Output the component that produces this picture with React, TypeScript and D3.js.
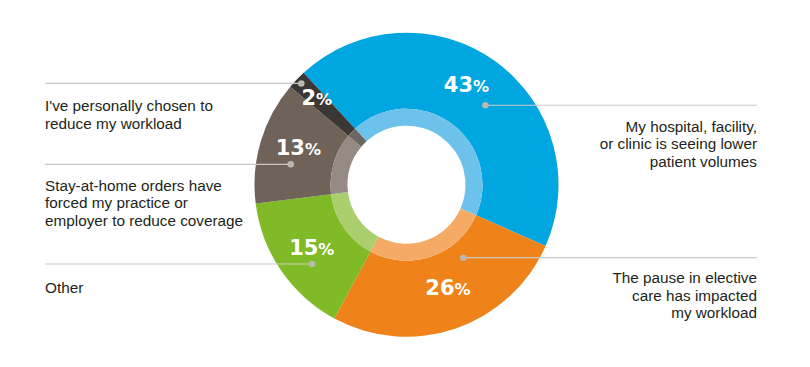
import React from "react";
import * as d3 from "d3";

const categories = [
  "My hospital, facility, or clinic is seeing lower patient volumes",
  "The pause in elective care has impacted my workload",
  "Other",
  "Stay-at-home orders have forced my practice or employer to reduce coverage",
  "I've personally chosen to reduce my workload",
];
const values = [43, 26, 15, 13, 2];
const labelLines = [
  ["My hospital, facility,", "or clinic is seeing lower", "patient volumes"],
  ["The pause in elective", "care has impacted", "my workload"],
  ["Other"],
  ["Stay-at-home orders have", "forced my practice or", "employer to reduce coverage"],
  ["I've personally chosen to", "reduce my workload"],
];
const colors = ["#00a6df", "#f0821a", "#80ba27", "#6f6259", "#3b3734"];
const lightColors = ["#6cc2eb", "#f5aa66", "#abce6f", "#968b84", "#6b6662"];

// layout (annotation placement, degrees clockwise from 12 o'clock)
const pctAngle = [32.8, 159.4, 233.4, 285.4, 311.6];
const pctRadius = [110.7, 117.8, 118, 112.2, 120];
const dotAngle = [44.8, 142.1, 230, 280, 313.9];
const dotRadius = [112, 92.5, 123.4, 117.6, 146];
const side = ["right", "right", "left", "left", "left"];
const textOffset = [26.5, 25.5, 28.5, 26.5, 27.5];

const W = 810;
const H = 367;
const cx = 406.5;
const cy = 184.7;
const R = 152;
const rMid = 76;
const rIn = 59;
const leftX = 45;
const rightX = 757;
const lineH = 17.6;

const rad = (deg: number) => (deg * Math.PI) / 180;
const polar = (deg: number, r: number) => [cx + r * Math.sin(rad(deg)), cy - r * Math.cos(rad(deg))];

export default function App() {
  const start = rad(-42.6);
  const pie = d3
    .pie<number>()
    .sort(null)
    .value((d) => d)
    .startAngle(start)
    .endAngle(start + 2 * Math.PI);
  const arcs = pie(values);
  const outer = d3.arc<d3.PieArcDatum<number>>().innerRadius(rMid).outerRadius(R);
  const inner = d3.arc<d3.PieArcDatum<number>>().innerRadius(rIn).outerRadius(rMid);

  return (
    <svg
      width={W}
      height={H}
      style={{ position: "absolute", left: 0, top: 0, background: "#fff" }}
      fontFamily="'Liberation Sans', Arial, sans-serif"
    >
      <g transform={`translate(${cx},${cy})`}>
        {arcs.map((a, i) => (
          <path key={"o" + i} d={outer(a) || ""} fill={colors[i]} />
        ))}
        {arcs.map((a, i) => (
          <path key={"i" + i} d={inner(a) || ""} fill={lightColors[i]} />
        ))}
      </g>
      {values.map((v, i) => {
        const [dx, dy] = polar(dotAngle[i], dotRadius[i]);
        const x1 = side[i] === "left" ? leftX : dx;
        const x2 = side[i] === "left" ? dx : rightX;
        const tx = side[i] === "left" ? leftX : rightX;
        return (
          <g key={"l" + i}>
            <line x1={x1} x2={x2} y1={dy} y2={dy} stroke="#cdc8c4" strokeWidth={1.2} />
            <circle cx={dx} cy={dy} r={3.3} fill="#bdb7b2" />
            <text
              x={tx}
              y={dy + textOffset[i]}
              fontSize={15.3}
              fill="#231f20"
              textAnchor={side[i] === "left" ? "start" : "end"}
            >
              {labelLines[i].map((ln, j) => (
                <tspan key={j} x={tx} dy={j === 0 ? 0 : lineH}>
                  {ln}
                </tspan>
              ))}
            </text>
          </g>
        );
      })}
      {values.map((v, i) => {
        const [px, py] = polar(pctAngle[i], pctRadius[i]);
        return (
          <text
            key={"p" + i}
            x={px}
            y={py}
            textAnchor="middle"
            fill="#ffffff"
            fontWeight="bold"
            fontFamily="'DejaVu Sans', sans-serif"
          >
            <tspan fontSize={21}>{v}</tspan>
            <tspan fontSize={16}>%</tspan>
          </text>
        );
      })}
    </svg>
  );
}
